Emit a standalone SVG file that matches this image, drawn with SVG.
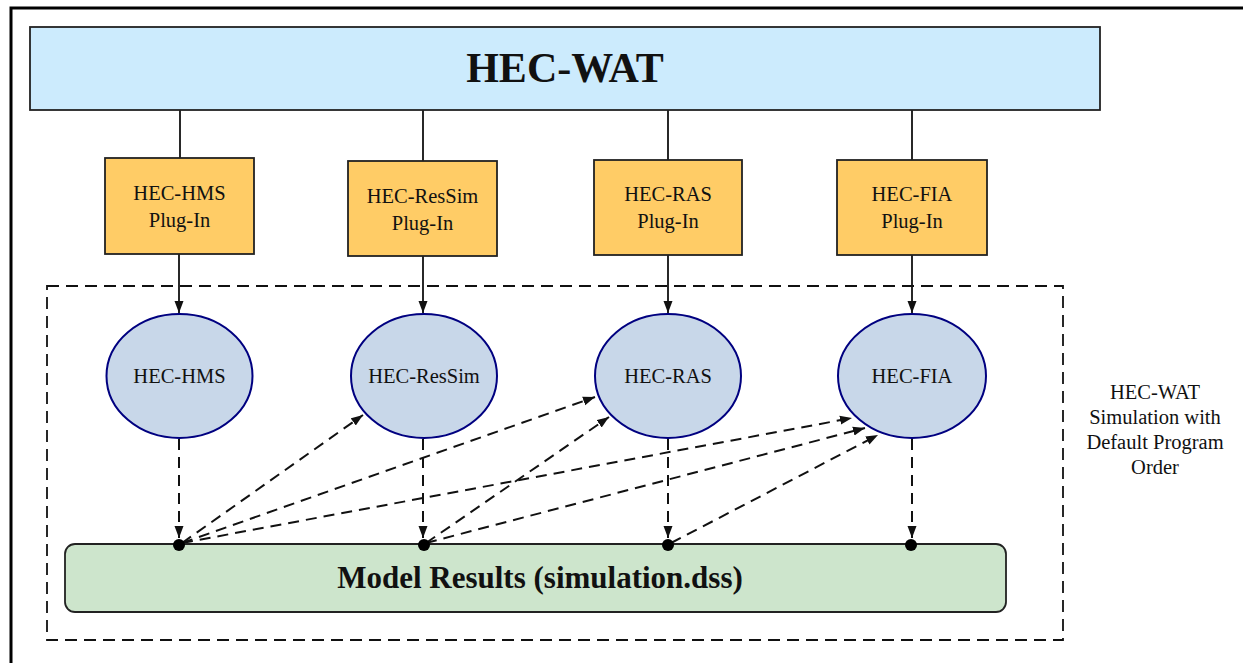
<svg xmlns="http://www.w3.org/2000/svg" width="1243" height="663" viewBox="0 0 1243 663">
<style>
text{font-family:"Liberation Serif","Times New Roman",serif;fill:#111;text-anchor:middle}
.plug{fill:#FFCC66;stroke:#222;stroke-width:1.8}
.ell{fill:#C8D7E9;stroke:#000080;stroke-width:2}
.solid{stroke:#111;stroke-width:1.8;fill:none}
.dash{stroke:#111;stroke-width:2;fill:none;stroke-dasharray:11,7}
.lbl{font-size:20.5px}
.side{font-size:20.5px}
</style>
<defs>
<marker id="ah" viewBox="0 0 12 10" refX="12" refY="5" markerWidth="12" markerHeight="10" markerUnits="userSpaceOnUse" orient="auto">
<path d="M0,0.5 L12,5 L0,9.5 z" fill="#111"/>
</marker>
</defs>
<rect width="1243" height="663" fill="#fff"/>
<path d="M11,663 L11,8 L1243,8" fill="none" stroke="#000" stroke-width="3"/>
<g id="sim-region">
<rect x="47" y="286" width="1016" height="354" fill="none" stroke="#111" stroke-width="1.8" stroke-dasharray="12,7"/>
<text class="side" x="1155" y="399">HEC-WAT</text>
<text class="side" x="1155" y="424">Simulation with</text>
<text class="side" x="1155" y="449">Default Program</text>
<text class="side" x="1155" y="474">Order</text>
</g>
<g id="connectors">
<line class="solid" x1="180" y1="110" x2="180" y2="158"/>
<line class="solid" x1="423" y1="110" x2="423" y2="161"/>
<line class="solid" x1="668" y1="110" x2="668" y2="160"/>
<line class="solid" x1="912" y1="110" x2="912" y2="160"/>
<line class="solid" x1="179" y1="254" x2="179" y2="313" marker-end="url(#ah)"/>
<line class="solid" x1="423" y1="256" x2="423" y2="313" marker-end="url(#ah)"/>
<line class="solid" x1="668" y1="254" x2="668" y2="313" marker-end="url(#ah)"/>
<line class="solid" x1="912" y1="255" x2="912" y2="313" marker-end="url(#ah)"/>
<line class="dash" x1="179" y1="439" x2="179" y2="538" marker-end="url(#ah)"/>
<line class="dash" x1="423" y1="439" x2="423" y2="538" marker-end="url(#ah)"/>
<line class="dash" x1="668" y1="439" x2="668" y2="538" marker-end="url(#ah)"/>
<line class="dash" x1="912" y1="439" x2="912" y2="538" marker-end="url(#ah)"/>
<line class="dash" x1="182" y1="543" x2="363" y2="415" marker-end="url(#ah)"/>
<line class="dash" x1="182" y1="543" x2="595" y2="397" marker-end="url(#ah)"/>
<line class="dash" x1="182" y1="543" x2="852" y2="418" marker-end="url(#ah)"/>
<line class="dash" x1="426" y1="543" x2="609" y2="417" marker-end="url(#ah)"/>
<line class="dash" x1="426" y1="543" x2="865" y2="428" marker-end="url(#ah)"/>
<line class="dash" x1="671" y1="543" x2="878" y2="435" marker-end="url(#ah)"/>
</g>
<g id="hec-wat">
<rect x="30" y="27" width="1070" height="83" fill="#CCEBFD" stroke="#222" stroke-width="1.8"/>
<text x="565" y="82" font-size="42" font-weight="bold">HEC-WAT</text>
</g>
<g id="hms-plugin">
<rect class="plug" x="105" y="158" width="149" height="96"/>
<text class="lbl" x="179.5" y="200">HEC-HMS</text>
<text class="lbl" x="179.5" y="227">Plug-In</text>
</g>
<g id="ressim-plugin">
<rect class="plug" x="348" y="161" width="149" height="95"/>
<text class="lbl" x="422.5" y="203">HEC-ResSim</text>
<text class="lbl" x="422.5" y="230">Plug-In</text>
</g>
<g id="ras-plugin">
<rect class="plug" x="594" y="160" width="148" height="95"/>
<text class="lbl" x="668" y="201">HEC-RAS</text>
<text class="lbl" x="668" y="228">Plug-In</text>
</g>
<g id="fia-plugin">
<rect class="plug" x="837" y="160" width="150" height="95"/>
<text class="lbl" x="912" y="201">HEC-FIA</text>
<text class="lbl" x="912" y="228">Plug-In</text>
</g>
<g id="hms">
<ellipse class="ell" cx="179.5" cy="376" rx="73" ry="62"/>
<text class="lbl" x="179.5" y="383">HEC-HMS</text>
</g>
<g id="ressim">
<ellipse class="ell" cx="424" cy="376" rx="73" ry="62"/>
<text class="lbl" x="424" y="383">HEC-ResSim</text>
</g>
<g id="ras">
<ellipse class="ell" cx="668" cy="376" rx="73" ry="62"/>
<text class="lbl" x="668" y="383">HEC-RAS</text>
</g>
<g id="fia">
<ellipse class="ell" cx="912" cy="376" rx="74" ry="62"/>
<text class="lbl" x="912" y="383">HEC-FIA</text>
</g>
<g id="model-results">
<rect x="65" y="544" width="941" height="68" rx="10" fill="#CDE5CC" stroke="#222" stroke-width="1.8"/>
<text x="540" y="588" font-size="31" font-weight="bold">Model Results (simulation.dss)</text>
<circle cx="179" cy="545" r="6" fill="#000"/>
<circle cx="424" cy="545" r="6" fill="#000"/>
<circle cx="668" cy="545" r="6" fill="#000"/>
<circle cx="911" cy="545" r="6" fill="#000"/>
</g>
</svg>
